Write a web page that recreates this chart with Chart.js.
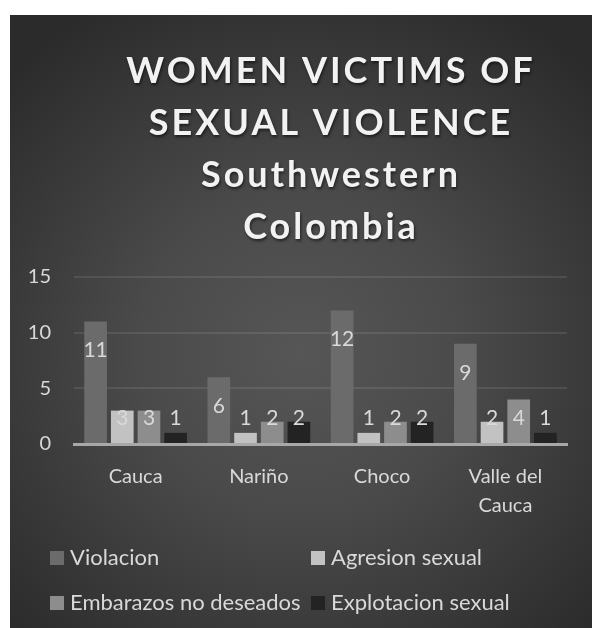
<!DOCTYPE html>
<html>
<head>
<meta charset="utf-8">
<script src="https://cdn.jsdelivr.net/npm/chart.js@4.4.1/dist/chart.umd.min.js"></script>
<style>
  html, body { margin: 0; padding: 0; background: #fff; }
  #card {
    position: absolute; left: 10px; top: 15px;
    width: 582px; height: 613px;
    background: radial-gradient(ellipse 70% 65% at 50% 55%, #565656 0%, #4a4a4a 40%, #2b2b2b 100%);
  }
</style>
</head>
<body>
<div id="card"><canvas id="chart"></canvas></div>
<script>
// data
const titleLines = ['WOMEN VICTIMS OF', 'SEXUAL VIOLENCE', 'Southwestern', 'Colombia'];
const regions = ['Cauca', 'Nariño', 'Choco', ['Valle del', 'Cauca']];
const violacion = [11, 6, 12, 9];
const agresion = [3, 1, 1, 2];
const embarazos = [3, 2, 2, 4];
const explotacion = [1, 2, 2, 1];
const seriesNames = ['Violacion', 'Agresion sexual', 'Embarazos no deseados', 'Explotacion sexual'];
const seriesColors = ['#6b6b6b', '#c2c2c2', '#8d8d8d', '#232323'];
const yTicks = [0, 5, 10, 15];

Chart.defaults.font.family = 'Lato, "Noto Sans", sans-serif';
Chart.defaults.color = '#d9d9d9';

const titlePlugin = {
    id: 'bigTitle',
    afterDraw(chart) {
        const ctx = chart.ctx;
        ctx.save();
        ctx.font = 'bold 36px Lato, sans-serif';
        ctx.letterSpacing = '3px';
        ctx.fillStyle = '#f2f2f2';
        ctx.textAlign = 'center';
        ctx.textBaseline = 'alphabetic';
        ctx.shadowColor = 'rgba(0,0,0,0.55)';
        ctx.shadowBlur = 3;
        ctx.shadowOffsetX = 1;
        ctx.shadowOffsetY = 2;
        titleLines.forEach((line, i) => {
            ctx.fillText(line, 321, 68 + i * 52);
        });
        ctx.restore();
    }
};

const valueLabels = {
    id: 'valueLabels',
    afterDatasetsDraw(chart) {
        const ctx = chart.ctx;
        ctx.save();
        ctx.font = '21px Lato, sans-serif';
        ctx.fillStyle = '#d9d9d9';
        ctx.textAlign = 'center';
        ctx.textBaseline = 'middle';
        chart.data.datasets.forEach((ds, i) => {
            chart.getDatasetMeta(i).data.forEach((bar, j) => {
                const y = Math.min(bar.y + 29, bar.base - 25);
                ctx.fillText(ds.data[j], bar.x, y);
            });
        });
        ctx.restore();
    }
};

const gridLegend = {
    id: 'gridLegend',
    afterDraw(chart) {
        const ctx = chart.ctx;
        const area = chart.chartArea;
        const cols = [40, 301];
        const rows = [area.bottom + 114, area.bottom + 159];
        ctx.save();
        ctx.font = '22px Lato, sans-serif';
        ctx.textAlign = 'left';
        ctx.textBaseline = 'middle';
        chart.data.datasets.forEach((ds, i) => {
            const x = cols[i % 2];
            const y = rows[Math.floor(i / 2)];
            ctx.fillStyle = ds.backgroundColor;
            ctx.fillRect(x, y - 7, 14, 14);
            ctx.fillStyle = '#d9d9d9';
            ctx.fillText(ds.label, x + 20, y);
        });
        ctx.restore();
    }
};

const allSeries = [violacion, agresion, embarazos, explotacion];

new Chart(document.getElementById('chart'), {
    type: 'bar',
    data: {
        labels: regions,
        datasets: allSeries.map((values, i) => ({
            label: seriesNames[i],
            data: values,
            backgroundColor: seriesColors[i],
            categoryPercentage: 0.866,
            barPercentage: 0.85
        }))
    },
    options: {
        responsive: true,
        maintainAspectRatio: false,
        animation: false,
        layout: { padding: { top: 262, right: 25, left: 0, bottom: 0 } },
        plugins: {
            legend: { display: false },
            title: { display: false },
            tooltip: { enabled: false }
        },
        scales: {
            x: {
                grid: { display: false },
                border: { display: true, color: '#a8a8a8', width: 3 },
                ticks: {
                    font: { size: 20, lineHeight: 1.45 },
                    color: '#d9d9d9',
                    padding: 10,
                    maxRotation: 0
                },
                afterFit(scale) { scale.height = 184; }
            },
            y: {
                min: 0,
                max: 15,
                afterBuildTicks(scale) { scale.ticks = yTicks.map(v => ({ value: v })); },
                grid: { color: 'rgba(255,255,255,0.09)', lineWidth: 2, drawTicks: false },
                border: { display: false },
                ticks: { font: { size: 20 }, color: '#d9d9d9', padding: 23 },
                afterFit(scale) { scale.width = 64; }
            }
        }
    },
    plugins: [titlePlugin, valueLabels, gridLegend]
});
</script>
</body>
</html>
